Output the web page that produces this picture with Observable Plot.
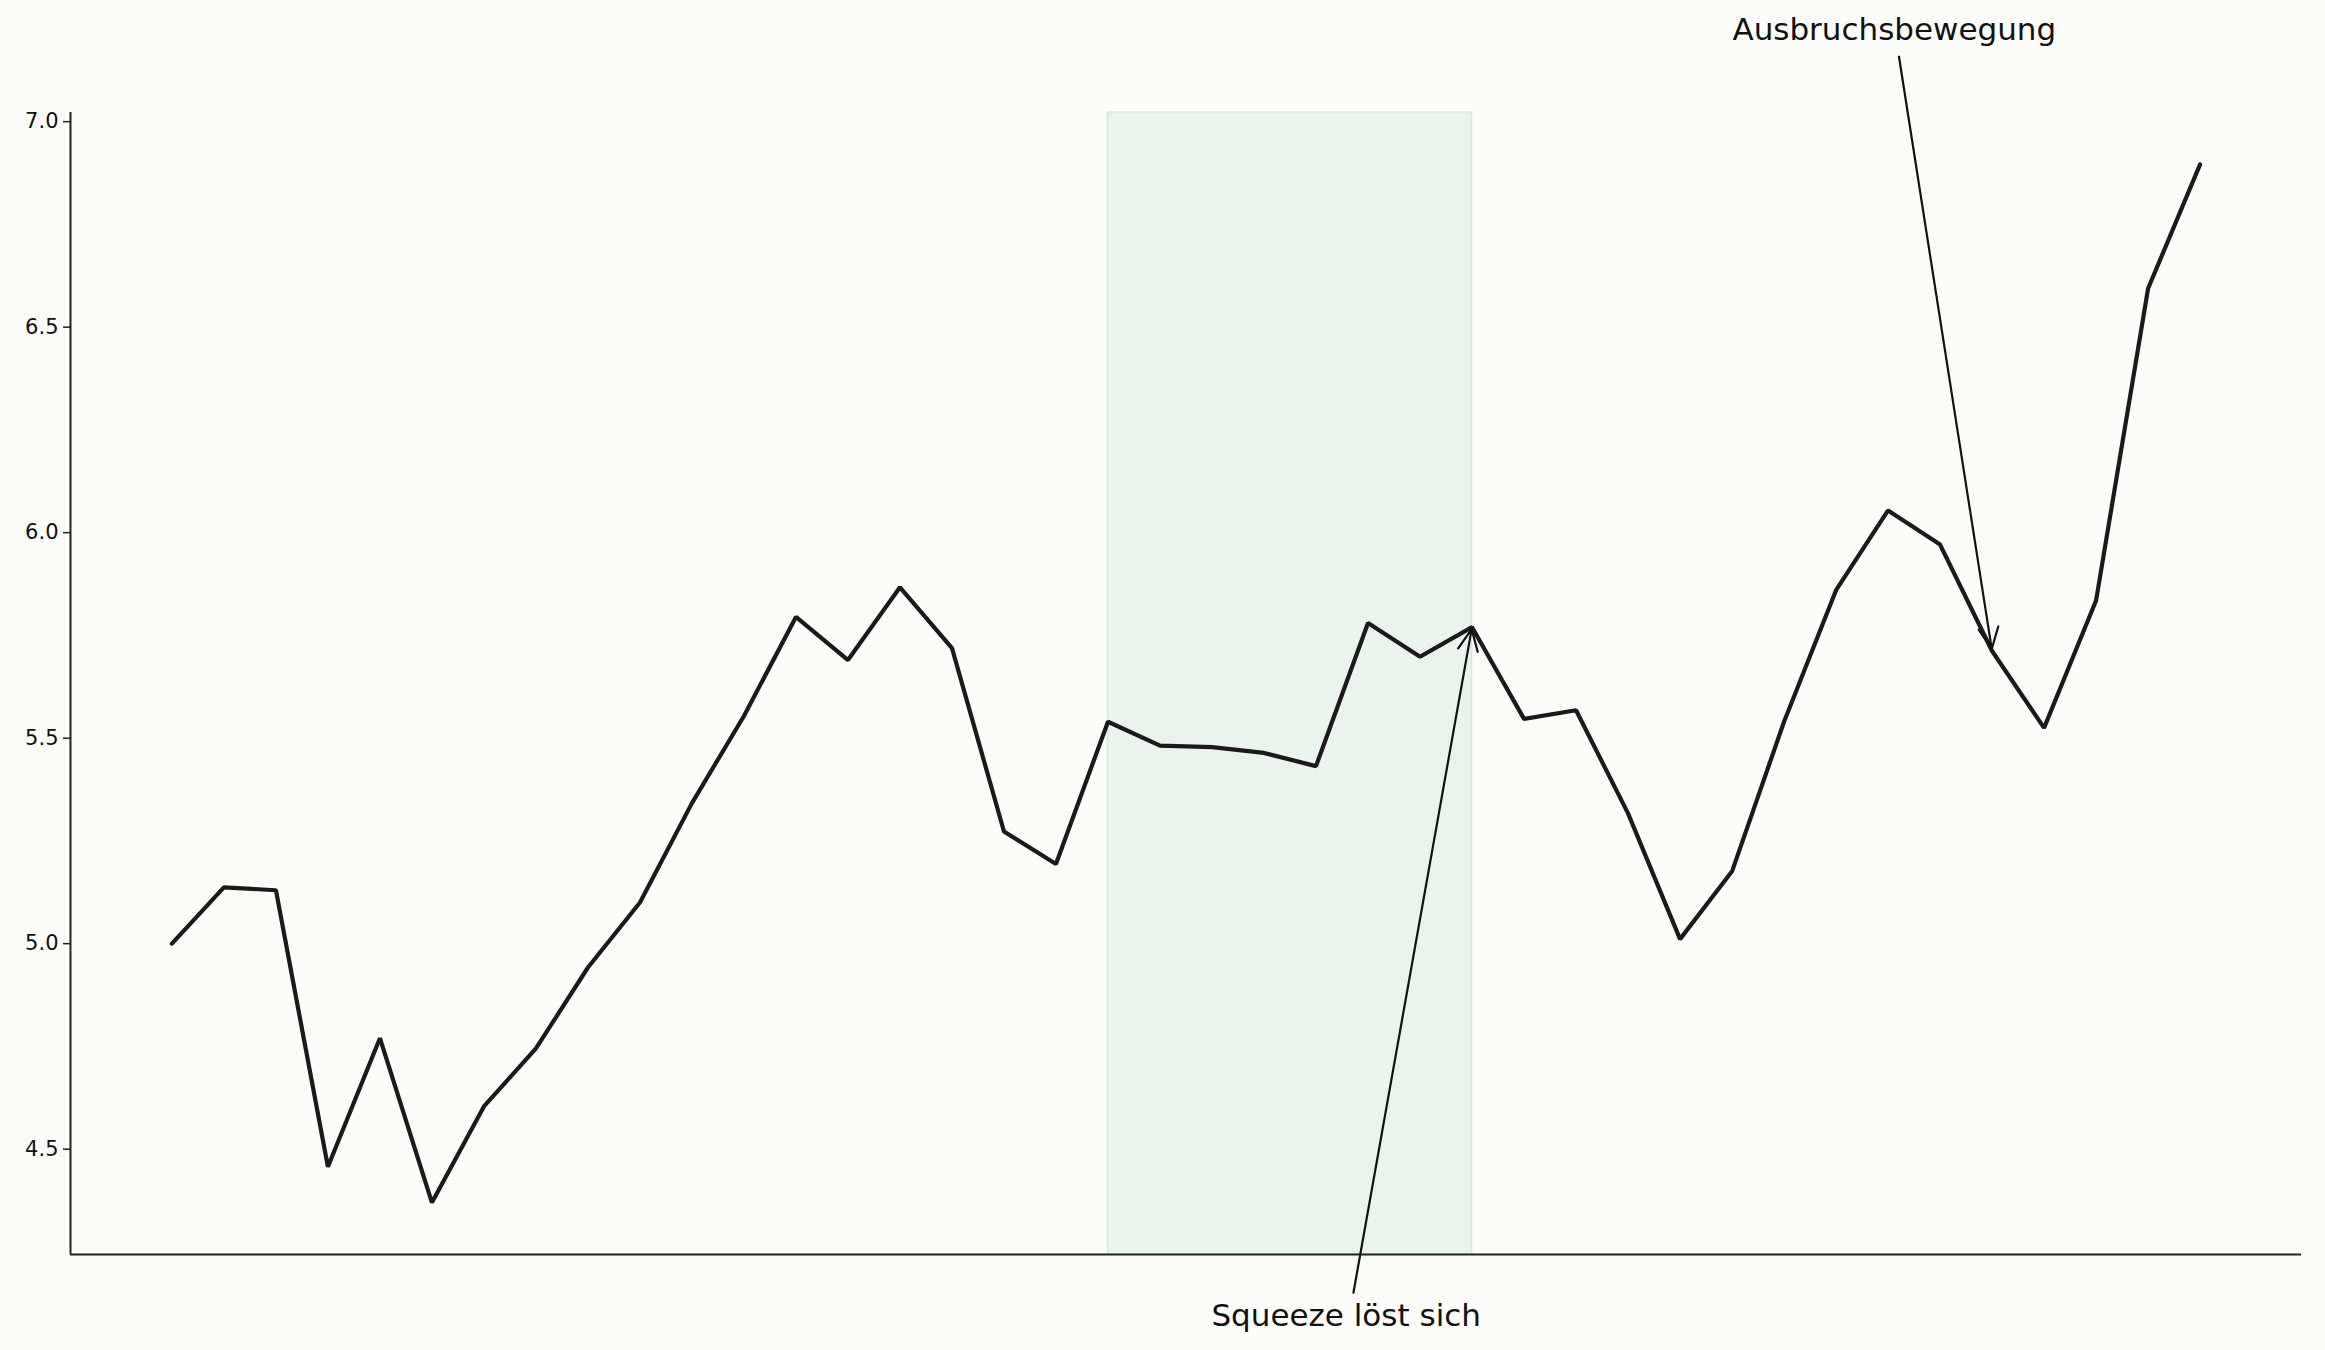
<!DOCTYPE html>
<html>
<head>
<meta charset="utf-8">
<script src="https://cdn.jsdelivr.net/npm/d3@7"></script>
<script src="https://cdn.jsdelivr.net/npm/@observablehq/plot@0.6"></script>
<style>
  html, body { margin: 0; padding: 0; background: #fcfdf9; }
  #chart svg { display: block; }
</style>
</head>
<body>
<div id="chart"></div>
<script>
// Series values (index 0..39)
const values = [
  5.00, 5.137, 5.13, 4.457, 4.77, 4.37, 4.604, 4.745, 4.942, 5.10,
  5.342, 5.554, 5.795, 5.69, 5.867, 5.719, 5.273, 5.194, 5.54, 5.482,
  5.478, 5.464, 5.432, 5.78, 5.698, 5.77, 5.547, 5.568, 5.317, 5.011,
  5.176, 5.54, 5.86, 6.054, 5.971, 5.712, 5.525, 5.835, 6.594, 6.896
];
const yTicks = [4.5, 5.0, 5.5, 6.0, 6.5, 7.0];
const yTickLabels = ["4.5", "5.0", "5.5", "6.0", "6.5", "7.0"];
// Squeeze period (index range)
const spanStart = [18];
const spanEnd = [25];
// Annotations: label, target index, text position, arrow start
const annLabels = ["Squeeze löst sich", "Ausbruchsbewegung"];
const annTarget = [25, 35];
const annTextX = [22.58, 33.12];
const annTextY = [4.094, 7.222];
const annStartX = [22.72, 33.21];
const annStartY = [4.151, 7.158];

const data = values.map((v, i) => ({i, v}));
const ann = annLabels.map((label, k) => ({
  label, t: annTarget[k], tx: annTextX[k], ty: annTextY[k], sx: annStartX[k], sy: annStartY[k]
}));
const spans = spanStart.map((s, k) => ({x1: s, x2: spanEnd[k]}));
const ticks = yTicks.map((v, k) => ({v, label: yTickLabels[k]}));

// matplotlib-style 5% margins
const n = values.length;
const xPad = (n - 1) * 0.05;
const xDom = [0 - xPad, n - 1 + xPad];
const ymin = d3.min(values), ymax = d3.max(values);
const yPad = (ymax - ymin) * 0.05;
const yDom = [ymin - yPad, ymax + yPad];

const chart = Plot.plot({
  width: 2325,
  height: 1350,
  marginLeft: 70,
  marginRight: 24,
  marginTop: 112,
  marginBottom: 96,
  style: { background: "#fcfdf9", fontFamily: "DejaVu Sans", color: "#222" },
  x: { type: "linear", domain: xDom, axis: null },
  y: { type: "linear", domain: yDom, axis: null },
  marks: [
    Plot.rect(spans, { x1: "x1", x2: "x2", y1: yDom[0], y2: yDom[1], fill: "#e8f4ec", stroke: "#d3ebdd", strokeWidth: 1.5 }),
    Plot.axisY({ ticks: yTicks, tickSize: 7, text: null, stroke: "#222", strokeWidth: 1.5 }),
    Plot.text(ticks, { x: xDom[0], y: "v", text: "label", dx: -12, textAnchor: "end", lineAnchor: "middle", fontSize: 21, fill: "#111" }),
    Plot.ruleX([xDom[0]], { y1: yDom[0], y2: yDom[1], stroke: "#222", strokeWidth: 2 }),
    Plot.ruleY([yDom[0]], { x1: xDom[0], x2: xDom[1], stroke: "#222", strokeWidth: 2 }),
    Plot.line(data, { x: "i", y: "v", stroke: "#1a1a1a", strokeWidth: 4.2, strokeLinejoin: "miter" }),
    Plot.arrow(ann, {
      x1: "sx", y1: "sy", x2: "t", y2: d => values[d.t],
      stroke: "#111", strokeWidth: 2.2, headLength: 16, headAngle: 50, insetEnd: 2
    }),
    Plot.text(ann, { x: "tx", y: "ty", text: "label", fontSize: 31, fill: "#111", textAnchor: "middle", lineAnchor: "middle" })
  ]
});
document.getElementById("chart").appendChild(chart);
</script>
</body>
</html>
